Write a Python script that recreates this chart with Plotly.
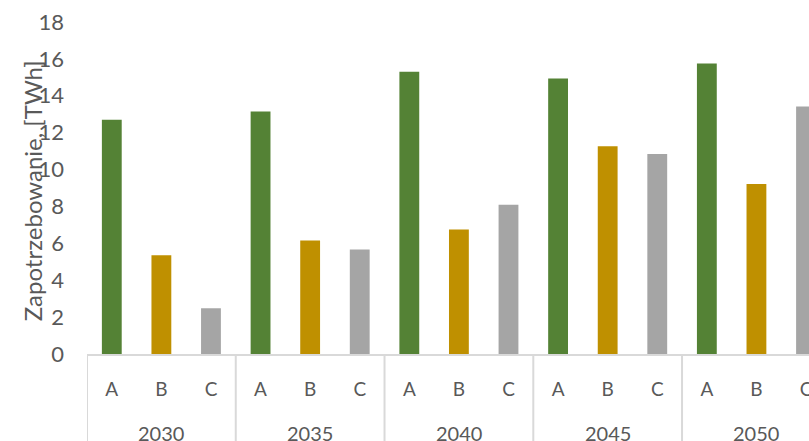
import plotly.graph_objects as go

# Demand per scenario and year
years = ["2030", "2035", "2040", "2045", "2050"]
scenarios = ["A", "B", "C"]
values_a = [12.7, 13.15, 15.3, 14.93, 15.75]
values_b = [5.35, 6.15, 6.75, 11.27, 9.22]
values_c = [2.48, 5.66, 8.09, 10.84, 13.42]
colors = {"A": "#548235", "B": "#BF9000", "C": "#A5A5A5"}
y_ticks = list(range(0, 19, 2))

series = {"A": values_a, "B": values_b, "C": values_c}
n_s = len(scenarios)

# one slot per (year, scenario) pair on a shared index axis
slots, labels, y_vals, bar_colors = [], [], [], []
for i, yr in enumerate(years):
    for k, s in enumerate(scenarios):
        slots.append(i * n_s + k)
        labels.append(s)
        y_vals.append(series[s][i])
        bar_colors.append(colors[s])

font_family = "Lato, 'Open Sans', sans-serif"
text_color = "#595959"
line_color = "#D9D9D9"

W, H = 809, 441
ml, mr, mt, mb = 87, 0, 22, 87
plot_w = W - ml - mr
plot_h = H - mt - mb

fig = go.Figure(
    go.Bar(
        x=slots,
        y=y_vals,
        width=0.4,
        marker=dict(color=bar_colors, line=dict(width=0)),
        showlegend=False,
    )
)

fig.update_layout(
    width=W,
    height=H,
    margin=dict(l=ml, r=mr, t=mt, b=mb, autoexpand=False),
    paper_bgcolor="white",
    plot_bgcolor="white",
    font=dict(family=font_family, color=text_color),
)

fig.update_xaxes(
    range=[-0.5, 14.06],
    tickmode="array",
    tickvals=slots,
    ticktext=labels,
    ticklabeloverflow="allow",
    showline=True,
    linecolor=line_color,
    linewidth=2,
    showgrid=False,
    zeroline=False,
    ticks="",
    ticklabelstandoff=17,
    tickfont=dict(size=19, color=text_color),
    automargin=False,
)

fig.update_yaxes(
    range=[0, 18],
    tickmode="array",
    tickvals=y_ticks,
    showgrid=False,
    zeroline=False,
    showline=False,
    ticks="",
    ticklabelstandoff=22,
    tickfont=dict(size=22, color=text_color),
    automargin=False,
)

# year labels under each group and dividers between groups
year_y = -(433 - (H - mb)) / plot_h
for i, yr in enumerate(years):
    fig.add_annotation(
        text=yr,
        xref="x",
        yref="paper",
        x=i * n_s + (n_s - 1) / 2,
        y=year_y,
        xanchor="center",
        yanchor="middle",
        showarrow=False,
        font=dict(size=20, color=text_color, family=font_family),
    )
for i in range(len(years) + 1):
    fig.add_shape(
        type="line",
        xref="x",
        yref="paper",
        x0=i * n_s - 0.5,
        x1=i * n_s - 0.5,
        y0=0,
        y1=-0.35,
        line=dict(color=line_color, width=2),
        layer="below",
    )

fig.add_annotation(
    text="Zapotrzebowanie, [TWh]",
    textangle=-90,
    xref="paper",
    yref="paper",
    x=(32 - ml) / plot_w,
    y=0.49,
    xanchor="center",
    yanchor="middle",
    showarrow=False,
    font=dict(size=24, color=text_color, family=font_family),
)

fig.write_html("out.html")
